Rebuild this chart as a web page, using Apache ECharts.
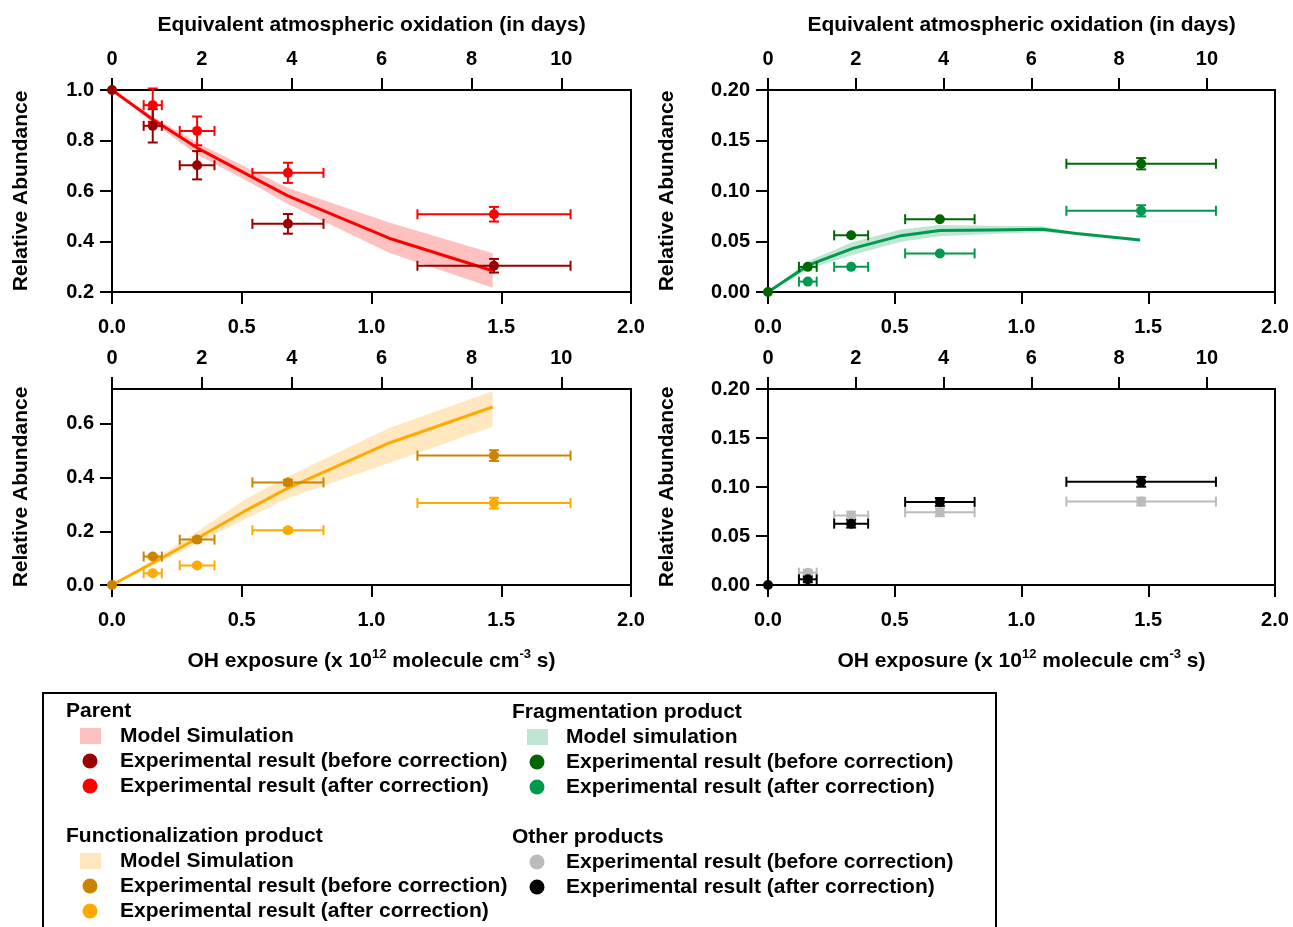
<!DOCTYPE html>
<html>
<head>
<meta charset="utf-8">
<script src="https://cdn.jsdelivr.net/npm/echarts@6/dist/echarts.min.js"></script>
<style>
html,body{margin:0;padding:0;background:#fff;}
#chart{width:1293px;height:927px;}
</style>
</head>
<body>
<div id="chart"></div>
<script>
// ---- experiment x positions (OH exposure, 1e12 molecule cm-3 s) ----
const expX    = [0, 0.157, 0.328, 0.678, 1.472];
const expXErr = [0, 0.035, 0.067, 0.137, 0.295];

// ---- Parent ----
const parentBefore    = [1.0, 0.858, 0.702, 0.470, 0.304];
const parentBeforeErr = [0, 0.066, 0.056, 0.039, 0.027];
const parentAfter     = [null, 0.940, 0.838, 0.672, 0.508];
const parentAfterErr  = [0, 0.066, 0.057, 0.040, 0.029];
const parentModelX  = [0, 0.156, 0.328, 0.535, 0.678, 1.068, 1.467];
const parentModelY  = [1.0, 0.884, 0.771, 0.658, 0.581, 0.413, 0.284];
const parentModelLo = [1.0, 0.872, 0.745, 0.632, 0.549, 0.355, 0.217];
const parentModelHi = [1.0, 0.896, 0.791, 0.685, 0.612, 0.475, 0.353];

// ---- Fragmentation product ----
const fragBefore    = [0, 0.0249, 0.0561, 0.0721, 0.127];
const fragBeforeErr = [0, 0, 0, 0, 0.0056];
const fragAfter     = [null, 0.0103, 0.0249, 0.0382, 0.0804];
const fragAfterErr  = [0, 0, 0, 0, 0.0055];
const fragModelX  = [0, 0.159, 0.335, 0.525, 0.677, 0.878, 1.081, 1.217, 1.468];
const fragModelY  = [0, 0.0266, 0.0432, 0.0558, 0.0608, 0.0615, 0.0621, 0.0580, 0.0515];
const fragModelLo = [0, 0.0226, 0.0370, 0.0498, 0.0553, 0.0575, 0.0595, 0.0570, 0.0515];
const fragModelHi = [0, 0.0306, 0.0494, 0.0618, 0.0663, 0.0655, 0.0650, 0.0590, 0.0515];

// ---- Functionalization product ----
const funcBefore    = [0, 0.106, 0.169, 0.382, 0.482];
const funcBeforeErr = [0, 0.005, 0.008, 0.010, 0.020];
const funcAfter     = [null, 0.0436, 0.073, 0.204, 0.305];
const funcAfterErr  = [0, 0.004, 0.005, 0.008, 0.020];
const funcModelX  = [0, 0.158, 0.329, 0.509, 0.678, 1.068, 1.467];
const funcModelY  = [0, 0.083, 0.174, 0.274, 0.361, 0.529, 0.663];
const funcModelLo = [0, 0.073, 0.156, 0.243, 0.324, 0.454, 0.589];
const funcModelHi = [0, 0.093, 0.199, 0.317, 0.404, 0.585, 0.722];

// ---- Other products ----
const otherBefore    = [null, 0.0126, 0.0708, 0.0742, 0.0851];
const otherBeforeErr = [0, 0.003, 0.004, 0.004, 0.004];
const otherAfter     = [0, 0.0058, 0.0626, 0.0848, 0.1053];
const otherAfterErr  = [0, 0.003, 0.004, 0.004, 0.005];

// ---- tick labels ----
const exposureTicks = [0, 0.5, 1.0, 1.5, 2.0];
const dayTicks = [0, 2, 4, 6, 8, 10];
const daysAtMaxExposure = 11.55;

const FONT = 'Liberation Sans';
const labelStyle = {fontFamily: FONT, fontWeight: 'bold', fontSize: 20, color: '#000'};
const nameStyle = {fontFamily: FONT, fontWeight: 'bold', fontSize: 21, color: '#000'};
const lineBlack = {color: '#000', width: 2};

const grids = [
  {left: 112, top: 90, width: 519, height: 202},
  {left: 768, top: 90, width: 507, height: 202},
  {left: 112, top: 389, width: 519, height: 196},
  {left: 768, top: 389, width: 507, height: 196}
];

const xAxes = [], yAxes = [];
grids.forEach((g, i) => {
  const bottomRow = i >= 2;
  xAxes.push({
    type: 'value', gridIndex: i, position: 'bottom', min: 0, max: 2, interval: 0.5,
    axisLine: {show: true, onZero: false, lineStyle: lineBlack},
    axisTick: {show: true, inside: false, length: 12, lineStyle: lineBlack, customValues: exposureTicks},
    axisLabel: Object.assign({margin: 25, customValues: exposureTicks, formatter: v => v.toFixed(1)}, labelStyle),
    splitLine: {show: false},
    name: bottomRow ? 'OH exposure (x 10{sup|12} molecule cm{sup|-3} s)' : '',
    nameLocation: 'middle', nameGap: 63,
    nameTextStyle: Object.assign({}, nameStyle, {
      lineHeight: 26,
      rich: {sup: {fontFamily: FONT, fontWeight: 'bold', fontSize: 13, color: '#000', verticalAlign: 'top', lineHeight: 13}}
    })
  });
  xAxes.push({
    type: 'value', gridIndex: i, position: 'top', min: 0, max: daysAtMaxExposure,
    axisLine: {show: true, onZero: false, lineStyle: lineBlack},
    axisTick: {show: true, inside: false, length: 12, lineStyle: lineBlack, customValues: dayTicks},
    axisLabel: Object.assign({margin: 21, customValues: dayTicks, formatter: v => String(Math.round(v))}, labelStyle),
    splitLine: {show: false},
    name: bottomRow ? '' : 'Equivalent atmospheric oxidation (in days)',
    nameLocation: 'middle', nameGap: 54, nameTextStyle: nameStyle
  });
});

const yCfg = [
  {min: 0.2, max: 1.0, interval: 0.2, dec: 1, gap: 80},
  {min: 0, max: 0.2, interval: 0.05, dec: 2, gap: 90},
  {min: 0, max: 0.73, custom: [0, 0.2, 0.4, 0.6], dec: 1, gap: 80},
  {min: 0, max: 0.2, interval: 0.05, dec: 2, gap: 90}
];
yCfg.forEach((c, i) => {
  const ax = {
    type: 'value', gridIndex: i, min: c.min, max: c.max,
    axisLine: {show: true, onZero: false, lineStyle: lineBlack},
    axisTick: {show: true, inside: false, length: 12, lineStyle: lineBlack},
    axisLabel: Object.assign({margin: 18, formatter: v => v.toFixed(c.dec)}, labelStyle),
    splitLine: {show: false},
    name: 'Relative Abundance', nameLocation: 'middle', nameGap: c.gap, nameRotate: 90,
    nameTextStyle: nameStyle
  };
  if (c.interval) ax.interval = c.interval;
  if (c.custom) { ax.axisTick.customValues = c.custom; ax.axisLabel.customValues = c.custom; }
  yAxes.push(ax);
});

function bandSeries(g, X, lo, hi, color) {
  return {
    type: 'custom', xAxisIndex: 2 * g, yAxisIndex: g, data: [[X[0], lo[0]]], z: 1, silent: true,
    renderItem: (params, api) => {
      const pts = [];
      for (let i = 0; i < X.length; i++) pts.push(api.coord([X[i], hi[i]]));
      for (let i = X.length - 1; i >= 0; i--) pts.push(api.coord([X[i], lo[i]]));
      return {type: 'polygon', shape: {points: pts}, style: {fill: color}};
    }
  };
}
function modelLine(g, X, Y, color) {
  return {
    type: 'line', xAxisIndex: 2 * g, yAxisIndex: g, data: X.map((x, i) => [x, Y[i]]),
    showSymbol: false, symbol: 'none', lineStyle: {color: color, width: 3}, z: 2, silent: true
  };
}
function errorBars(g, ys, ye, color) {
  const data = [];
  ys.forEach((y, i) => { if (y !== null && (expXErr[i] > 0 || ye[i] > 0)) data.push([expX[i], y, expXErr[i], ye[i]]); });
  return {
    type: 'custom', xAxisIndex: 2 * g, yAxisIndex: g, data: data, z: 3, silent: true,
    renderItem: (params, api) => {
      const x = api.value(0), y = api.value(1), ex = api.value(2), ey = api.value(3);
      const cap = 5, st = {stroke: color, lineWidth: 2};
      const ch = [];
      if (ex > 0) {
        const l = api.coord([x - ex, y]), r = api.coord([x + ex, y]);
        ch.push({type: 'line', shape: {x1: l[0], y1: l[1], x2: r[0], y2: r[1]}, style: st});
        ch.push({type: 'line', shape: {x1: l[0], y1: l[1] - cap, x2: l[0], y2: l[1] + cap}, style: st});
        ch.push({type: 'line', shape: {x1: r[0], y1: r[1] - cap, x2: r[0], y2: r[1] + cap}, style: st});
      }
      if (ey > 0) {
        const t = api.coord([x, y + ey]), b = api.coord([x, y - ey]);
        ch.push({type: 'line', shape: {x1: t[0], y1: t[1], x2: b[0], y2: b[1]}, style: st});
        ch.push({type: 'line', shape: {x1: t[0] - cap, y1: t[1], x2: t[0] + cap, y2: t[1]}, style: st});
        ch.push({type: 'line', shape: {x1: b[0] - cap, y1: b[1], x2: b[0] + cap, y2: b[1]}, style: st});
      }
      return {type: 'group', children: ch};
    }
  };
}
function points(g, ys, color, z) {
  const data = [];
  ys.forEach((y, i) => { if (y !== null) data.push([expX[i], y]); });
  return {type: 'scatter', xAxisIndex: 2 * g, yAxisIndex: g, data: data, symbolSize: 10,
          itemStyle: {color: color, opacity: 1}, z: z || 4, silent: true};
}

const C = {
  parentBand: '#FFC0C0', parentLine: '#FF0000', parentBefore: '#990000', parentAfter: '#FF0000',
  fragBand: '#BFE6D4', fragLine: '#00994D', fragBefore: '#006600', fragAfter: '#00994D',
  funcBand: '#FFE8BF', funcLine: '#FFAA00', funcBefore: '#CC8400', funcAfter: '#FFAA00',
  otherBefore: '#BBBBBB', otherAfter: '#000000'
};

const series = [
  bandSeries(0, parentModelX, parentModelLo, parentModelHi, C.parentBand),
  modelLine(0, parentModelX, parentModelY, C.parentLine),
  errorBars(0, parentAfter, parentAfterErr, C.parentAfter),
  errorBars(0, parentBefore, parentBeforeErr, C.parentBefore),
  points(0, parentAfter, C.parentAfter, 4),
  points(0, parentBefore, C.parentBefore, 5),

  bandSeries(1, fragModelX, fragModelLo, fragModelHi, C.fragBand),
  modelLine(1, fragModelX, fragModelY, C.fragLine),
  errorBars(1, fragBefore, fragBeforeErr, C.fragBefore),
  errorBars(1, fragAfter, fragAfterErr, C.fragAfter),
  points(1, fragBefore, C.fragBefore, 4),
  points(1, fragAfter, C.fragAfter, 5),

  bandSeries(2, funcModelX, funcModelLo, funcModelHi, C.funcBand),
  modelLine(2, funcModelX, funcModelY, C.funcLine),
  errorBars(2, funcBefore, funcBeforeErr, C.funcBefore),
  errorBars(2, funcAfter, funcAfterErr, C.funcAfter),
  points(2, funcBefore, C.funcBefore, 4),
  points(2, funcAfter, C.funcAfter, 5),

  errorBars(3, otherBefore, otherBeforeErr, C.otherBefore),
  errorBars(3, otherAfter, otherAfterErr, C.otherAfter),
  points(3, otherBefore, C.otherBefore, 4),
  points(3, otherAfter, C.otherAfter, 5)
];

// ---- legend (drawn as graphic) ----
const legendGroups = [
  {title: 'Parent', x: 66, y: 711, sx: 90, tx: 120, items: [
    ['rect', C.parentBand, 'Model Simulation'],
    ['dot', C.parentBefore, 'Experimental result (before correction)'],
    ['dot', C.parentAfter, 'Experimental result (after correction)']]},
  {title: 'Functionalization product', x: 66, y: 836, sx: 90, tx: 120, items: [
    ['rect', C.funcBand, 'Model Simulation'],
    ['dot', C.funcBefore, 'Experimental result (before correction)'],
    ['dot', C.funcAfter, 'Experimental result (after correction)']]},
  {title: 'Fragmentation product', x: 512, y: 712, sx: 537, tx: 566, items: [
    ['rect', C.fragBand, 'Model simulation'],
    ['dot', C.fragBefore, 'Experimental result (before correction)'],
    ['dot', C.fragAfter, 'Experimental result (after correction)']]},
  {title: 'Other products', x: 512, y: 837, sx: 537, tx: 566, items: [
    ['dot', C.otherBefore, 'Experimental result (before correction)'],
    ['dot', C.otherAfter, 'Experimental result (after correction)']]}
];
const graphics = [{type: 'rect', shape: {x: 43, y: 693, width: 953, height: 250},
  style: {fill: 'none', stroke: '#000', lineWidth: 2}, silent: true}];
const tStyle = (x, y, text) => ({fontFamily: FONT, fontWeight: 'bold', fontSize: 21, fill: '#000',
  x: x, y: y, text: text, verticalAlign: 'middle', align: 'left'});
legendGroups.forEach(gr => {
  graphics.push({type: 'text', style: tStyle(gr.x, gr.y, gr.title), silent: true});
  gr.items.forEach((it, k) => {
    const yy = gr.y + 25 * (k + 1);
    if (it[0] === 'rect') graphics.push({type: 'rect', shape: {x: gr.sx - 10, y: yy - 8, width: 21, height: 16}, style: {fill: it[1]}, silent: true});
    else graphics.push({type: 'circle', shape: {cx: gr.sx, cy: yy, r: 7.5}, style: {fill: it[1]}, silent: true});
    graphics.push({type: 'text', style: tStyle(gr.tx, yy, it[2]), silent: true});
  });
});

const chart = echarts.init(document.getElementById('chart'), null, {renderer: 'canvas'});
chart.setOption({
  backgroundColor: '#fff',
  animation: false,
  grid: grids.map(g => Object.assign({show: true, borderColor: '#000', borderWidth: 2, backgroundColor: 'transparent', containLabel: false}, g)),
  xAxis: xAxes,
  yAxis: yAxes,
  series: series,
  graphic: graphics
});
</script>
</body>
</html>
